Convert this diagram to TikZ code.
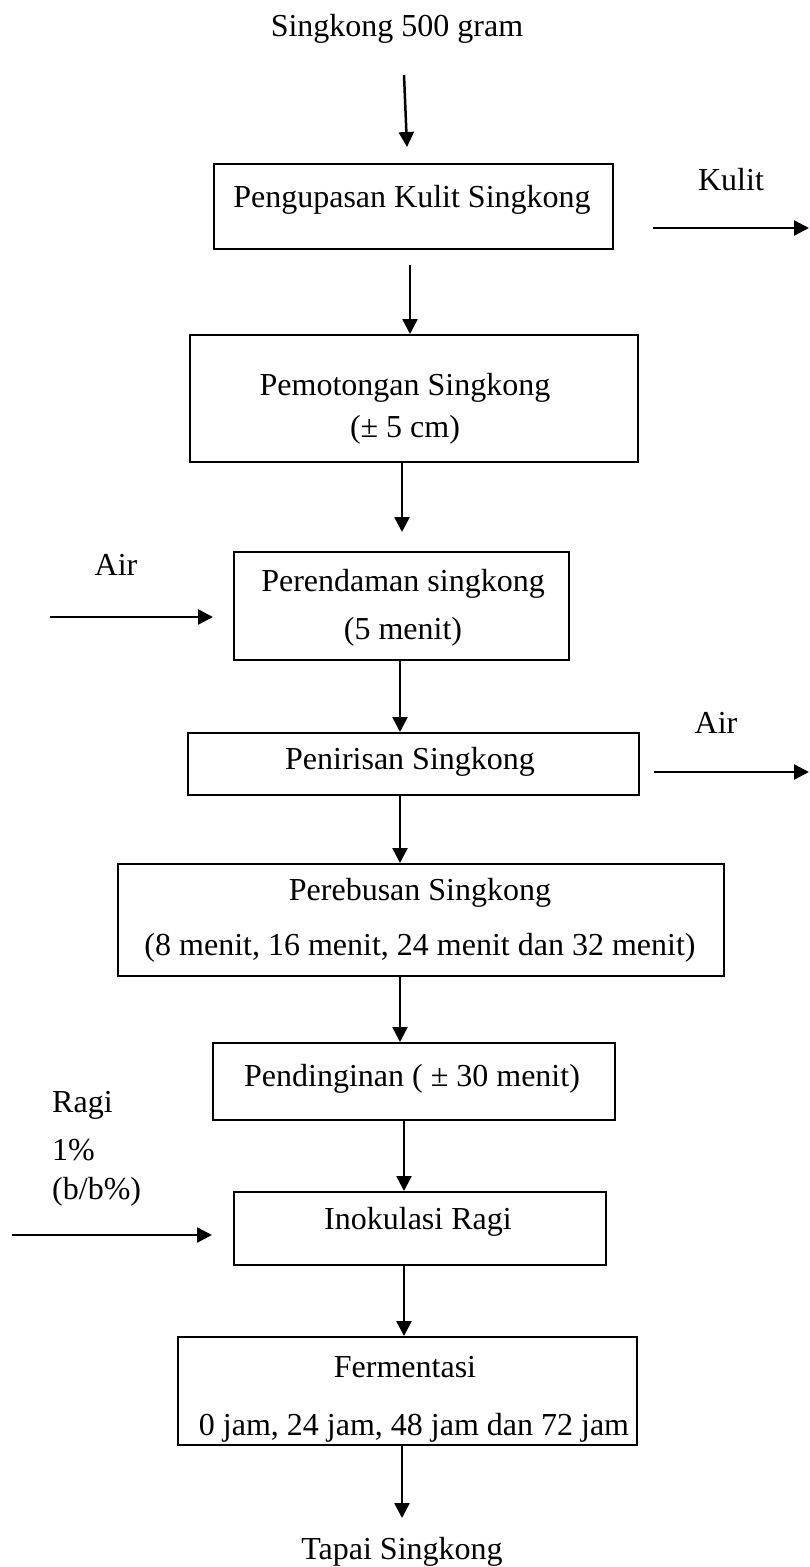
\documentclass[tikz,border=0pt]{standalone}
\usepackage{fontspec}
\setmainfont{Liberation Serif}
\usetikzlibrary{arrows.meta}
\begin{document}
\begin{tikzpicture}[x=1pt,y=-1pt,
  box/.style={draw, line width=2.2pt, inner sep=0pt, anchor=north west},
  txt/.style={inner sep=0pt, font=\fontsize{32}{38}\selectfont},
  arr/.style={line width=2.5pt, -{Triangle[length=15pt,width=15pt]}}]
\useasboundingbox (0,0) rectangle (809,1567);
% title
\node[txt] (title) at (397,29) {Singkong 500 gram};
% boxes
\node[box, minimum width=399pt, minimum height=85pt] (b1) at (213,163) {};
\node[box, minimum width=448pt, minimum height=127pt] (b2) at (189,334) {};
\node[box, minimum width=335pt, minimum height=108pt] (b3) at (233,551) {};
\node[box, minimum width=451pt, minimum height=62pt] (b4) at (187,732) {};
\node[box, minimum width=606pt, minimum height=112pt] (b5) at (117,863) {};
\node[box, minimum width=402pt, minimum height=77pt] (b6) at (212,1042) {};
\node[box, minimum width=372pt, minimum height=73pt] (b7) at (233,1191) {};
\node[box, minimum width=459pt, minimum height=108pt] (b8) at (177,1336) {};
% box texts
\node[txt] (t1) at (412,200) {Pengupasan Kulit Singkong};
\node[txt] (t2a) at (405,388) {Pemotongan Singkong};
\node[txt] (t2b) at (405,430) {(± 5 cm)};
\node[txt] (t3a) at (403,584) {Perendaman singkong};
\node[txt] (t3b) at (403,632) {(5 menit)};
\node[txt] (t4) at (410,762) {Penirisan Singkong};
\node[txt] (t5a) at (420,893) {Perebusan Singkong};
\node[txt] (t5b) at (420,948) {(8 menit, 16 menit, 24 menit dan 32 menit)};
\node[txt] (t6) at (412,1079) {Pendinginan ( ± 30 menit)};
\node[txt] (t7) at (418,1222) {Inokulasi Ragi};
\node[txt] (t8a) at (405,1367) {Fermentasi};
\node[txt] (t8b) at (414,1428) {0 jam, 24 jam, 48 jam dan 72 jam};
\node[txt] (tapai) at (402,1552) {Tapai Singkong};
% side labels
\node[txt] (kulit) at (731,180) {Kulit};
\node[txt] (airL) at (116,565) {Air};
\node[txt] (airR) at (716,723) {Air};
\node[txt, anchor=west] (ragi1) at (52,1105) {Ragi};
\node[txt, anchor=west] (ragi2) at (52,1150) {1\%};
\node[txt, anchor=west] (ragi3) at (52,1192) {(b/b\%)};
% column coordinates
\coordinate (x400) at (400,0);
\coordinate (x402) at (402,0);
\coordinate (x404) at (404,0);
\coordinate (x410) at (410,0);
% main arrows
\coordinate (a0s) at (404,75);
\coordinate (a0e) at (407,147);
\draw[arr] (a0s) -- (a0e);
\draw[arr, shorten <=15pt] (b1.south -| x410) -- (b2.north -| x410);
\draw[arr, shorten >=19pt] (b2.south -| x402) -- (b3.north -| x402);
\draw[arr] (b3.south -| x400) -- (b4.north -| x400);
\draw[arr] (b4.south -| x400) -- (b5.north -| x400);
\draw[arr] (b5.south -| x400) -- (b6.north -| x400);
\draw[arr] (b6.south -| x404) -- (b7.north -| x404);
\draw[arr] (b7.south -| x404) -- (b8.north -| x404);
\coordinate (a8e) at (402,1518);
\draw[arr] (b8.south -| x402) -- (a8e);
% side arrows
\coordinate (k1) at (653,228);
\coordinate (k2) at (809,228);
\draw[arr] (k1) -- (k2);
\coordinate (r1) at (654,772);
\coordinate (r2) at (809,772);
\draw[arr] (r1) -- (r2);
\coordinate (l1) at (50,617);
\coordinate (l2) at (213,617);
\draw[arr] (l1) -- (l2);
\coordinate (g1) at (12,1235);
\coordinate (g2) at (212,1235);
\draw[arr] (g1) -- (g2);
\end{tikzpicture}
\end{document}
